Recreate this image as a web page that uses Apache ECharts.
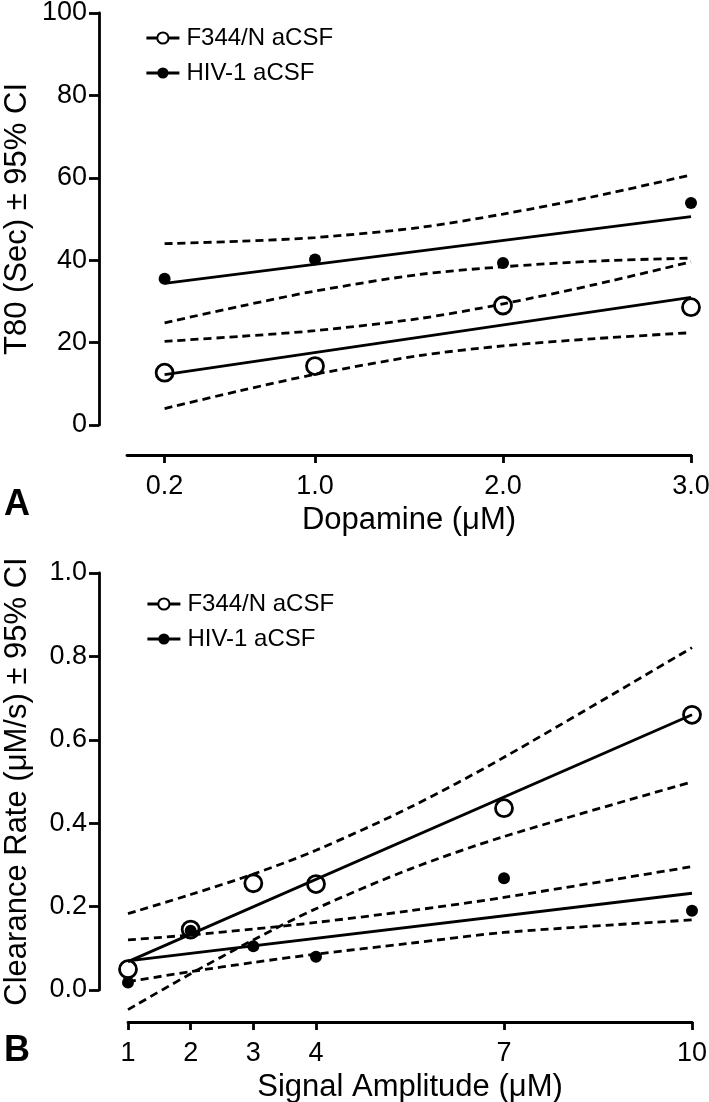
<!DOCTYPE html>
<html>
<head>
<meta charset="utf-8">
<script src="https://cdn.jsdelivr.net/npm/echarts@6/dist/echarts.min.js"></script>
<style>
  html, body { margin: 0; padding: 0; background: #fff; }
  #chart { width: 709px; height: 1102px; }
</style>
</head>
<body>
<div id="chart"></div>
<script>
// panel A: T80 vs dopamine
const topX = [0.2, 1.0, 2.0, 3.0]
const topF344 = [12.7, 14.3, 29.0, 28.6]
const topHIV = [35.5, 40.2, 39.3, 53.9]
const topFitX = [0.2, 3.0]
const topF344Fit = [12.2, 31.0]
const topHIVFit = [34.4, 50.6]
const topCiX = [0.2, 0.6, 1.0, 1.55, 2.0, 2.5, 3.0]
const topF344Upper = [20.3, 21.5, 22.9, 25.8, 29.4, 34.2, 39.6]
const topF344Lower = [4.0, 8.3, 12.3, 16.8, 19.2, 21.0, 22.4]
const topHIVUpper = [44.0, 44.6, 45.5, 47.9, 51.2, 55.6, 60.7]
const topHIVLower = [24.8, 28.8, 32.5, 36.5, 38.4, 39.8, 40.5]

// panel B: clearance rate vs signal amplitude
const botX = [1, 2, 3, 4, 7, 10]
const botF344 = [0.05, 0.145, 0.256, 0.254, 0.436, 0.66]
const botHIV = [0.018, 0.142, 0.105, 0.08, 0.268, 0.19]
const botFitX = [1, 10]
const botF344Fit = [0.068, 0.66]
const botHIVFit = [0.07, 0.232]
const botCiX = [1, 2, 3, 4, 5.5, 7, 10]
const botF344Upper = [0.183, 0.229, 0.278, 0.335, 0.438, 0.558, 0.821]
const botF344Lower = [-0.047, 0.039, 0.12, 0.195, 0.29, 0.368, 0.499]
const botHIVUpper = [0.12, 0.132, 0.146, 0.162, 0.19, 0.222, 0.296]
const botHIVLower = [0.02, 0.044, 0.066, 0.086, 0.112, 0.138, 0.168]

const F344 = 'F344/N aCSF'
const HIV = 'HIV-1 aCSF'
const font = "'Liberation Sans', Arial, sans-serif"

const zip = (xs, ys) => xs.map((x, i) => [x, ys[i]])

const axisCommon = {
  splitLine: { show: false },
  axisLine: { show: true, onZero: false, lineStyle: { color: '#000', width: 2.8 } },
  axisTick: { show: true, lineStyle: { color: '#000', width: 2.8 } },
  axisLabel: { color: '#000', fontSize: 27, fontFamily: font },
  nameLocation: 'middle',
  nameMoveOverlap: false,
  nameTextStyle: { color: '#000', fontSize: 31, fontFamily: font }
}

const fitLine = (idx, xs, ys) => ({
  type: 'line',
  xAxisIndex: idx,
  yAxisIndex: idx,
  data: zip(xs, ys),
  symbol: 'none',
  clip: false,
  silent: true,
  lineStyle: { color: '#000', width: 2.8 },
  z: 3
})

const ciLine = (idx, xs, ys) => ({
  type: 'line',
  xAxisIndex: idx,
  yAxisIndex: idx,
  data: zip(xs, ys),
  symbol: 'none',
  smooth: 0.3,
  clip: false,
  silent: true,
  lineStyle: { color: '#000', width: 2.8, type: [8, 5] },
  z: 3
})

const points = (idx, name, xs, ys, open) => ({
  type: 'line',
  name: name,
  xAxisIndex: idx,
  yAxisIndex: idx,
  data: zip(xs, ys),
  symbol: 'circle',
  symbolSize: open ? 17 : 12,
  itemStyle: open
    ? { color: '#fff', borderColor: '#000', borderWidth: 2.8 }
    : { color: '#000', borderColor: '#000', borderWidth: 0 },
  lineStyle: { width: 0 },
  clip: false,
  z: open ? 2 : 4
})

const legendCommon = {
  orient: 'vertical',
  data: [F344, HIV],
  itemWidth: 33,
  itemHeight: 14,
  itemGap: 11,
  lineStyle: { color: '#000', width: 2.8 },
  textStyle: { color: '#000', fontSize: 24, fontFamily: font, padding: [0, 0, 0, 2] },
  selectedMode: false
}

const chart = echarts.init(document.getElementById('chart'))
chart.setOption({
  animation: false,
  backgroundColor: '#fff',
  grid: [
    { left: 127, right: 18, top: 13, height: 412, outerBoundsMode: 'none', containLabel: false },
    { left: 128, right: 17, top: 573, height: 417, outerBoundsMode: 'none', containLabel: false }
  ],
  legend: [
    Object.assign({ left: 140, top: 21 }, legendCommon),
    Object.assign({ left: 141, top: 587 }, legendCommon)
  ],
  xAxis: [
    Object.assign({}, axisCommon, {
      type: 'value', gridIndex: 0, min: 0, max: 3, offset: 30,
      name: 'Dopamine (μM)', nameGap: 50,
      axisTick: Object.assign({}, axisCommon.axisTick, { length: 8, customValues: topX }),
      axisLabel: Object.assign({}, axisCommon.axisLabel, {
        margin: 18, customValues: topX, formatter: (v) => v.toFixed(1)
      })
    }),
    Object.assign({}, axisCommon, {
      type: 'value', gridIndex: 1, min: 1, max: 10, offset: 32,
      name: 'Signal Amplitude (μM)', nameGap: 50,
      axisTick: Object.assign({}, axisCommon.axisTick, { length: 8, customValues: botX }),
      axisLabel: Object.assign({}, axisCommon.axisLabel, { margin: 18, customValues: botX })
    })
  ],
  yAxis: [
    Object.assign({}, axisCommon, {
      type: 'value', gridIndex: 0, min: 0, max: 100, interval: 20, offset: 28,
      name: 'T80 (Sec) ± 95% CI', nameGap: 66,
      axisTick: Object.assign({}, axisCommon.axisTick, { length: 10 }),
      axisLabel: Object.assign({}, axisCommon.axisLabel, { margin: 12 })
    }),
    Object.assign({}, axisCommon, {
      type: 'value', gridIndex: 1, min: 0, max: 1, interval: 0.2, offset: 29,
      name: 'Clearance Rate (μM/s) ± 95% CI', nameGap: 66,
      axisTick: Object.assign({}, axisCommon.axisTick, { length: 10 }),
      axisLabel: Object.assign({}, axisCommon.axisLabel, {
        margin: 12, formatter: (v) => v.toFixed(1)
      })
    })
  ],
  graphic: [
    { type: 'text', left: 4, top: 487, style: { text: 'A', font: 'bold 36px ' + font, fill: '#000' } },
    { type: 'text', left: 4, top: 1033, style: { text: 'B', font: 'bold 36px ' + font, fill: '#000' } }
  ],
  series: [
    points(0, F344, topX, topF344, true),
    points(0, HIV, topX, topHIV, false),
    fitLine(0, topFitX, topF344Fit),
    fitLine(0, topFitX, topHIVFit),
    ciLine(0, topCiX, topF344Upper),
    ciLine(0, topCiX, topF344Lower),
    ciLine(0, topCiX, topHIVUpper),
    ciLine(0, topCiX, topHIVLower),
    points(1, F344, botX, botF344, true),
    points(1, HIV, botX, botHIV, false),
    fitLine(1, botFitX, botF344Fit),
    fitLine(1, botFitX, botHIVFit),
    ciLine(1, botCiX, botF344Upper),
    ciLine(1, botCiX, botF344Lower),
    ciLine(1, botCiX, botHIVUpper),
    ciLine(1, botCiX, botHIVLower)
  ]
})
</script>
</body>
</html>
